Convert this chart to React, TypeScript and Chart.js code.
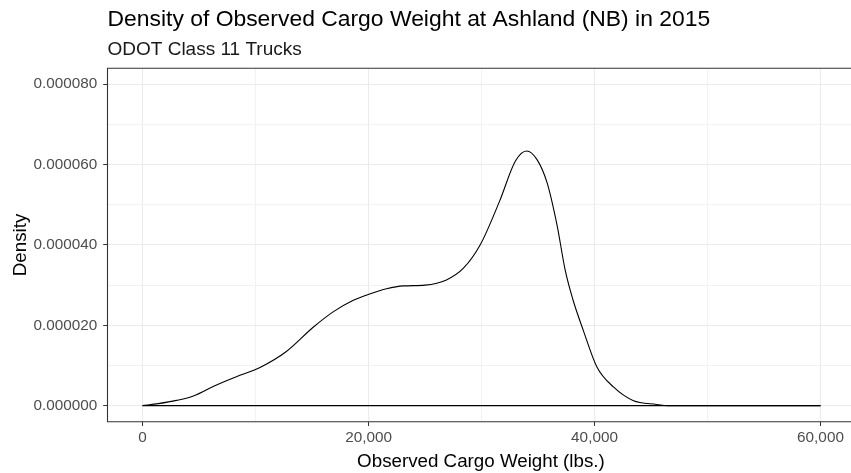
import React, { useEffect, useRef } from 'react';
import { Chart, registerables } from 'chart.js';

Chart.register(...registerables);

const titleText = 'Density of Observed Cargo Weight at Ashland (NB) in 2015';
const subtitleText = 'ODOT Class 11 Trucks';
const xAxisTitle = 'Observed Cargo Weight (lbs.)';
const yAxisTitle = 'Density';

// density curve
const cargoWeight = [
  0, 1400, 3000, 4500, 6500, 8300, 10400, 12700, 15100, 16900, 18700, 20100,
  21600, 23100, 25000, 26900, 28400, 29900, 31600, 33000, 34000, 34900, 35800,
  36700, 37400, 38100, 39000, 40200, 41700, 43400, 45500, 46500, 60000,
];
const density = [
  0, 0.0000005, 0.0000013, 0.0000024, 0.0000051, 0.0000072, 0.0000095,
  0.0000134, 0.0000195, 0.0000234, 0.0000263, 0.0000278, 0.0000291, 0.0000298,
  0.0000300, 0.0000313, 0.0000342, 0.0000401, 0.0000509, 0.0000609, 0.0000634,
  0.0000613, 0.0000555, 0.0000447, 0.0000338, 0.0000263, 0.0000188, 0.0000097,
  0.0000046, 0.0000013, 0.0000003, 0, 0,
];
// baseline of the density outline
const baselineX = [0, 60000];
const baselineY = [0, 0];

const xMajorTicks = [0, 20000, 40000, 60000];
const xMinorTicks = [10000, 30000, 50000];
const yMajorTicks = [0, 0.00002, 0.00004, 0.00006, 0.00008];
const yMinorTicks = [0.00001, 0.00003, 0.00005, 0.00007];

const FONT = '"Liberation Sans", Arial, Helvetica, sans-serif';

const isMajorX = (v: number) => xMajorTicks.some((t) => Math.abs(t - v) < 1e-6);
const isMajorY = (v: number) => yMajorTicks.some((t) => Math.abs(t - v) < 1e-12);

// panel border (its right side lies outside the visible picture)
const panelBorder = {
  id: 'panelBorder',
  afterDraw(chart: any) {
    const { ctx, chartArea } = chart;
    const { left, right, top, bottom } = chartArea;
    ctx.save();
    ctx.strokeStyle = '#333333';
    ctx.lineWidth = 1.1;
    ctx.beginPath();
    ctx.moveTo(right, top);
    ctx.lineTo(left, top);
    ctx.lineTo(left, bottom);
    ctx.lineTo(right, bottom);
    ctx.stroke();
    ctx.restore();
  },
};

export default function App() {
  const ref = useRef<HTMLCanvasElement | null>(null);

  useEffect(() => {
    if (!ref.current) return;
    const chart = new Chart(ref.current, {
      type: 'scatter',
      data: {
        datasets: [
          {
            data: cargoWeight.map((x, i) => ({ x, y: density[i] })),
            showLine: true,
            borderColor: '#000000',
            borderWidth: 1.1,
            pointRadius: 0,
            cubicInterpolationMode: 'monotone',
            fill: false,
          },
          {
            data: baselineX.map((x, i) => ({ x, y: baselineY[i] })),
            showLine: true,
            borderColor: '#000000',
            borderWidth: 1.2,
            pointRadius: 0,
            fill: false,
          },
        ],
      },
      plugins: [panelBorder],
      options: {
        animation: false,
        responsive: false,
        devicePixelRatio: 1,
        layout: { padding: { left: 0, right: 15.6, top: 0, bottom: 0 } },
        plugins: {
          legend: { display: false },
          tooltip: { enabled: false },
          title: {
            display: true,
            text: titleText,
            align: 'start',
            fullSize: false,
            color: '#000000',
            font: { family: FONT, size: 22.9, weight: 'normal', lineHeight: 1.2 },
            padding: { top: 6, bottom: 0 },
          },
          subtitle: {
            display: true,
            text: subtitleText,
            align: 'start',
            fullSize: false,
            color: '#1A1A1A',
            font: { family: FONT, size: 19, weight: 'normal', lineHeight: 1.2 },
            padding: { top: 5.1, bottom: 6.8 },
          },
        },
        scales: {
          x: {
            type: 'linear',
            min: -3100,
            max: 63000,
            afterBuildTicks: (scale: any) => {
              scale.ticks = [...xMajorTicks, ...xMinorTicks].sort((a, b) => a - b).map((v) => ({ value: v }));
            },
            afterFit: (scale: any) => {
              scale.height = 51.3;
            },
            border: { display: false },
            grid: {
              drawOnChartArea: true,
              drawTicks: true,
              tickLength: 4.3,
              lineWidth: 1,
              tickWidth: 1,
              color: (c: any) => (c.tick && isMajorX(c.tick.value) ? '#EBEBEB' : '#F2F2F2'),
              tickColor: (c: any) => (c.tick && isMajorX(c.tick.value) ? '#333333' : 'rgba(0,0,0,0)'),
            },
            ticks: {
              autoSkip: false,
              maxRotation: 0,
              padding: 3,
              color: '#4D4D4D',
              font: { family: FONT, size: 15.3 },
              callback: (v: any) => (isMajorX(Number(v)) ? Number(v).toLocaleString('en-US') : ''),
            },
            title: {
              display: true,
              text: xAxisTitle,
              color: '#000000',
              font: { family: FONT, size: 18.75, lineHeight: 1.2 },
              padding: { top: 0, bottom: 0 },
            },
          },
          y: {
            type: 'linear',
            min: -0.000004,
            max: 0.000084,
            afterBuildTicks: (scale: any) => {
              scale.ticks = [...yMajorTicks, ...yMinorTicks].sort((a, b) => a - b).map((v) => ({ value: v }));
            },
            afterFit: (scale: any) => {
              scale.width = 107.5;
            },
            border: { display: false },
            grid: {
              drawOnChartArea: true,
              drawTicks: true,
              tickLength: 4.3,
              lineWidth: 1,
              tickWidth: 1,
              color: (c: any) => (c.tick && isMajorY(c.tick.value) ? '#EBEBEB' : '#F2F2F2'),
              tickColor: (c: any) => (c.tick && isMajorY(c.tick.value) ? '#333333' : 'rgba(0,0,0,0)'),
            },
            ticks: {
              autoSkip: false,
              padding: 6,
              color: '#4D4D4D',
              font: { family: FONT, size: 15.3 },
              callback: (v: any) => (isMajorY(Number(v)) ? Number(v).toFixed(6) : ''),
            },
            title: {
              display: true,
              text: yAxisTitle,
              color: '#000000',
              font: { family: FONT, size: 18.75, lineHeight: 1.2 },
              padding: { top: 9.6, bottom: 0 },
            },
          },
        },
      } as any,
    });
    return () => chart.destroy();
  }, []);

  return (
    <div style={{ position: 'fixed', left: 0, top: 0, width: 851, height: 473, overflow: 'hidden', background: '#ffffff' }}>
      <canvas ref={ref} width={870} height={473} style={{ display: 'block', width: 870, height: 473 }} />
    </div>
  );
}
